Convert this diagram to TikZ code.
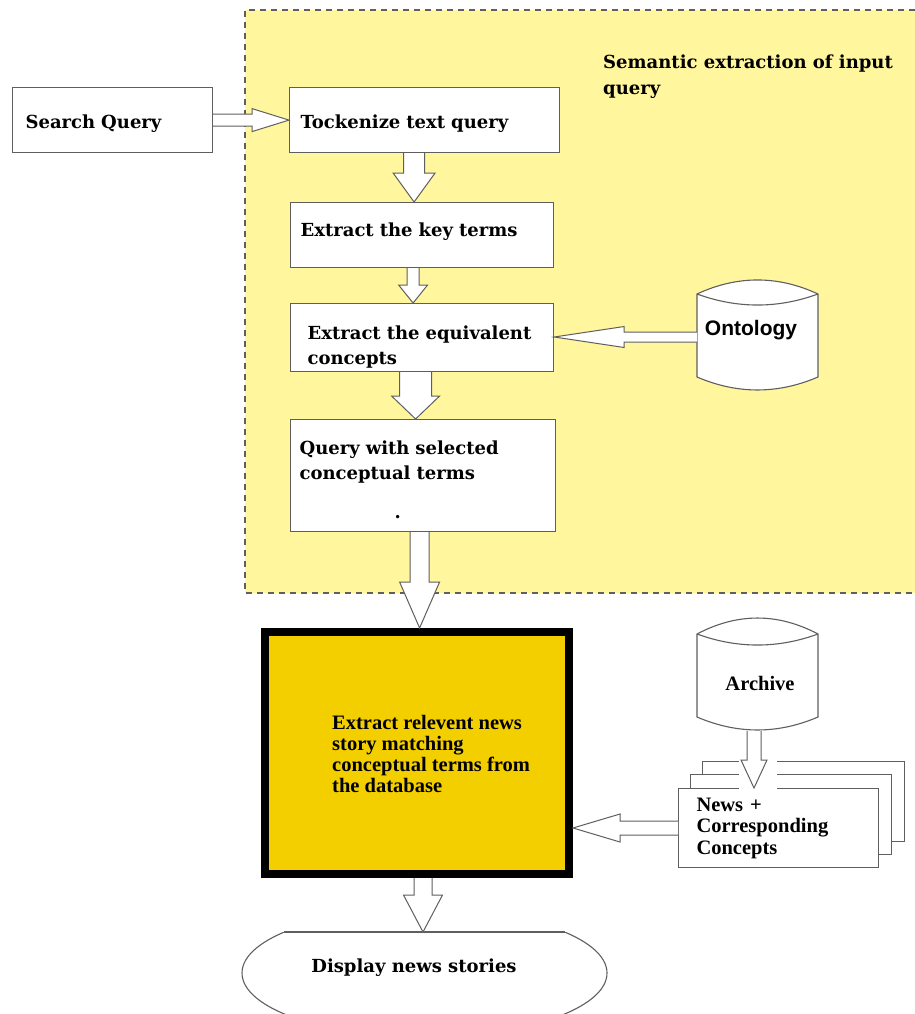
\documentclass[tikz,border=0pt]{standalone}
\usepackage{fontspec}
\setmainfont{Liberation Serif}
\newfontfamily\stepfont{DejaVu Serif}
\newfontfamily\dbfont{Liberation Sans}
\usetikzlibrary{calc}

\definecolor{panelyellow}{RGB}{255,246,158}
\definecolor{boxgold}{RGB}{244,207,0}
\definecolor{edgegray}{RGB}{95,95,95}

% hollow block arrow pointing down: tail, tip, shaft half-width, head half-width, head length
\newcommand\downblockarrow[5]{%
  \draw[blockarrow] let \p1=(#1), \p2=(#2) in
    ({\x1-#3},\y1) -- ({\x1-#3},{\y2+#5}) -- ({\x1-#4},{\y2+#5}) -- (\x1,\y2)
    -- ({\x1+#4},{\y2+#5}) -- ({\x1+#3},{\y2+#5}) -- ({\x1+#3},\y1);}
% hollow block arrow sideways: tail, tip, shaft half-width, head half-width, signed head length
\newcommand\sideblockarrow[5]{%
  \draw[blockarrow] let \p1=(#1), \p2=(#2) in
    (\x1,{\y1+#3}) -- ({\x2+#5},{\y1+#3}) -- ({\x2+#5},{\y1+#4}) -- (\x2,\y1)
    -- ({\x2+#5},{\y1-#4}) -- ({\x2+#5},{\y1-#3}) -- (\x1,{\y1-#3});}

\tikzset{
  stepbox/.style={draw=edgegray, line width=1.2pt, fill=white, rectangle,
    anchor=north west, align=left, inner ysep=2pt,
    font=\stepfont\bfseries\fontsize{18}{25}\selectfont},
  blockarrow/.style={draw=edgegray, line width=1pt, fill=white, line join=miter},
  stackpage/.style={draw=edgegray, line width=1pt, fill=white},
  cylline/.style={draw=edgegray, line width=1.1pt, fill=white},
  serifbold/.style={font=\bfseries\fontsize{20.5}{21}\selectfont, align=left, inner sep=0pt},
}

\begin{document}
\begin{tikzpicture}[x=1pt, y=-1pt]
\useasboundingbox (0,0) rectangle (915,1014);
\fill[white] (0,0) rectangle (915,1014);

% semantic extraction panel
\fill[panelyellow] (245,10) rectangle (915,593);
\draw[edgegray, line width=1.2pt, dash pattern=on 6pt off 5pt] (915,10) -- (245,10) -- (245,593) -- (915,593);
\node[anchor=north west, align=left, inner sep=0pt,
      font=\stepfont\bfseries\fontsize{18}{26}\selectfont] (title) at (603,55)
  {Semantic extraction of input\\query};

% processing steps
\node[stepbox, minimum width=200pt, minimum height=65pt, text width=174pt, inner xsep=13pt]
  (sq) at (12,87) {\rule{0pt}{20pt}Search Query};
\node[stepbox, minimum width=270pt, minimum height=65pt, text width=248pt, inner xsep=11pt]
  (tok) at (289,87) {\rule{0pt}{20pt}Tockenize text query};
\node[stepbox, minimum width=263pt, minimum height=65pt, text width=243pt, inner xsep=10pt]
  (key) at (290,202) {\rule[-10pt]{0pt}{10pt}Extract the key terms};
\node[stepbox, minimum width=263pt, minimum height=68pt, text width=229pt, inner xsep=17pt]
  (equiv) at (290,303) {\rule{0pt}{32pt}\mbox{Extract the equivalent}\\concepts};
\node[stepbox, minimum width=265pt, minimum height=112pt, text width=247pt, inner xsep=9pt]
  (query) at (290,419) {\rule{0pt}{22pt}Query with selected\\conceptual terms\\[14pt]\hspace*{95pt}.};

% ontology store
\draw[cylline] (697,294) .. controls (737.3,275.3) and (777.7,275.3) .. (818,294)
  -- (818,377) .. controls (777.7,394.3) and (737.3,394.3) .. (697,377) -- cycle;
\draw[cylline, fill=none] (697,294) .. controls (737.3,308.7) and (777.7,308.7) .. (818,294);
\coordinate (onto-w) at (697,337);
\node[font=\dbfont\bfseries\fontsize{21}{23}\selectfont, inner sep=0pt] (onto) at (751,330) {Ontology};

% matching step
\node[draw=black, line width=8pt, fill=boxgold, minimum width=304pt, minimum height=242pt]
  (main) at (417,753) {};
\node[serifbold, anchor=west] (maintext) at (332,754)
  {Extract relevent news\\story matching\\conceptual terms from\\the database};

% archive store
\draw[cylline] (697,634) .. controls (737.3,612.7) and (777.7,612.7) .. (818,634)
  -- (818,717) .. controls (777.7,734.3) and (737.3,734.3) .. (697,717) -- cycle;
\draw[cylline, fill=none] (697,634) .. controls (737.3,648.7) and (777.7,648.7) .. (818,634);
\coordinate (arch-s) at (754,731);
\node[font=\bfseries\fontsize{20.5}{22}\selectfont, inner sep=0pt] (arch) at (760,683) {Archive};

% stacked news records
\draw[stackpage] (702,761) rectangle (904,841);
\draw[stackpage] (690,774) rectangle (891,854);
\node[stackpage, rectangle, anchor=north west, minimum width=200pt, minimum height=79pt,
      text width=164pt, inner xsep=18pt, inner ysep=0pt, align=left,
      font=\bfseries\fontsize{20.5}{21.5}\selectfont]
  (news) at (678,788) {News +\\Corresponding\\Concepts};
\fill[white] (739,755) rectangle (777,789.5);

% result display
\begin{scope}
  \clip (200,932) rectangle (650,1014);
  \draw[edgegray, line width=1.1pt] (424.5,973) ellipse [x radius=182.5, y radius=64];
\end{scope}
\draw[edgegray, line width=1.1pt] (284.4,932) -- (564.6,932);
\coordinate (disptop) at (423,932);
\node[font=\stepfont\bfseries\fontsize{18}{20}\selectfont, inner sep=0pt] (disp) at (414,968)
  {Display news stories};

% connectors
\sideblockarrow{sq.east}{tok.west}{6pt}{11.5pt}{-37pt}
\downblockarrow{$(tok.south)+(-10.5,0)$}{key.north}{10.5pt}{21pt}{29pt}
\downblockarrow{$(key.south)+(-9,0)$}{equiv.north}{6pt}{14.5pt}{18pt}
\sideblockarrow{onto-w}{equiv.east |- onto-w}{5pt}{10.5pt}{70pt}
\downblockarrow{$(equiv.south)+(-6.5,0)$}{query.north}{16pt}{24pt}{23pt}
\downblockarrow{$(query.south)+(-3.5,0)$}{main.north}{9.5pt}{20pt}{46pt}
\downblockarrow{arch-s}{$(news.north west)+(76,0)$}{7pt}{13pt}{28pt}
\sideblockarrow{news.west}{main.east |- news.west}{7pt}{14pt}{47pt}
\downblockarrow{$(main.south)+(6,0)$}{disptop}{9pt}{19.5pt}{37pt}
\end{tikzpicture}
\end{document}
